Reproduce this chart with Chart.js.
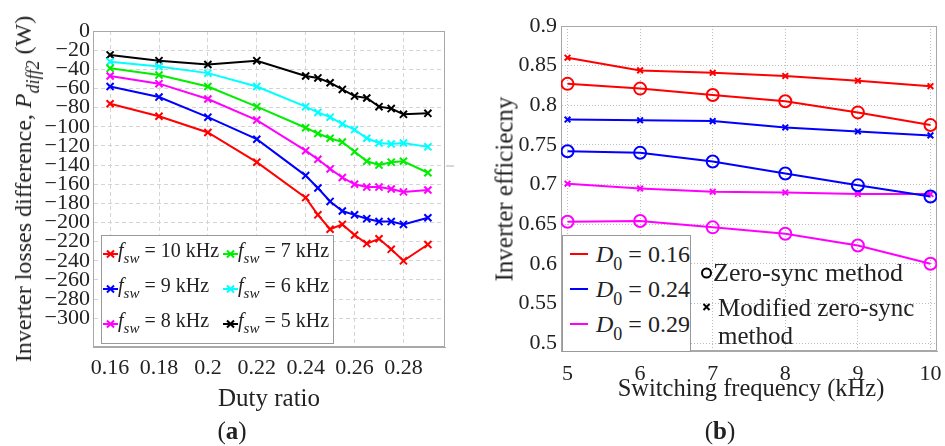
<!DOCTYPE html>
<html>
<head>
<meta charset="utf-8">
<script src="https://cdn.jsdelivr.net/npm/chart.js@4.4.0/dist/chart.umd.min.js"></script>
<style>
  body { margin: 0; background: #fff; }
  #wrap { position: relative; width: 945px; height: 446px; overflow: hidden; font-family: 'Liberation Serif', serif; color: #222; }
  canvas { position: absolute; top: 0; }
  #lossCanvas { left: 0; }
  #effCanvas { left: 470px; }
  .txt { position: absolute; white-space: nowrap; line-height: 1; }
  .c { transform: translate(-50%, -50%); }
  .l { transform: translate(0, -50%); }
  .rot { transform: translate(-50%, -50%) rotate(-90deg); }
  .sub { font-size: 0.75em; position: relative; top: 0.42em; }
  .box { position: absolute; background: #fff; border: 1px solid #999; }
  svg { position: absolute; overflow: visible; }
</style>
</head>
<body>
<div id="wrap">
  <canvas id="lossCanvas" width="470" height="446"></canvas>
  <canvas id="effCanvas" width="475" height="446"></canvas>

  <div class="txt rot" style="left:23px; top:189px; font-size:24px;">Inverter losses difference, <i>P</i><span class="sub"><i>diff2</i></span> (W)</div>
  <div class="txt c" style="left:269px; top:397px; font-size:25px;">Duty ratio</div>
  <div class="txt c" style="left:232px; top:430px; font-size:25px;">(<b>a</b>)</div>
  <div class="box" style="left:101px; top:235px; width:231px; height:107px;"></div>
  <div id="lossLegend"></div>

  <div class="txt rot" style="left:504px; top:189px; font-size:25px;">Inverter efficiecny</div>
  <div class="txt c" style="left:751px; top:388px; font-size:24.5px;">Switching frequency (kHz)</div>
  <div class="txt c" style="left:720px; top:430px; font-size:25px;">(<b>b</b>)</div>
  <div class="box" style="left:562px; top:235px; width:127px; height:115px;"></div>
  <div id="effLegend"></div>
  <svg style="left:0; top:0;" width="945" height="446">
    <circle cx="706.5" cy="273" r="4.5" fill="none" stroke="#000" stroke-width="2"/>
    <path d="M703.5 304 L709.5 310 M709.5 304 L703.5 310" stroke="#000" stroke-width="2"/>
    <line x1="446" y1="166" x2="454" y2="166" stroke="#b0b0b0" stroke-width="1"/>
  </svg>
  <div class="txt l" style="left:713px; top:273px; font-size:26px;">Zero-sync method</div>
  <div class="txt l" style="left:718px; top:307px; font-size:25px;">Modified zero-sync</div>
  <div class="txt l" style="left:718px; top:335px; font-size:25px;">method</div>
</div>

<script>
// ---- (a) inverter losses difference vs duty ratio ----
const dutyRatio = [0.16, 0.18, 0.20, 0.22, 0.24, 0.245, 0.25, 0.255, 0.26, 0.265, 0.27, 0.275, 0.28, 0.29];
const loss10k = [-76, -89, -106, -137, -174, -192, -207, -202, -213, -222, -217, -228, -240, -223];
const loss9k  = [-58, -69, -90, -113, -151, -164, -178, -188, -192, -196, -199, -199, -202, -195];
const loss8k  = [-47, -55, -71, -93, -125, -134, -144, -153, -160, -163, -163, -165, -168, -166];
const loss7k  = [-39, -46, -58, -79, -101, -107, -112, -116, -126, -136, -140, -137, -136, -148];
const loss6k  = [-32, -37, -44, -58, -79, -85, -90, -97, -103, -112, -117, -118, -117, -121];
const loss5k  = [-25, -31, -35, -31, -47, -49, -54, -61, -68, -70, -79, -81, -87, -86];
const lossLabels = ['10', '9', '8', '7', '6', '5'];
const dutyTicks = [0.16, 0.18, 0.2, 0.22, 0.24, 0.26, 0.28];
const lossTicks = [0, -20, -40, -60, -80, -100, -120, -140, -160, -180, -200, -220, -240, -260, -280, -300];

// ---- (b) inverter efficiency vs switching frequency ----
const freqKHz = [5, 6, 7, 8, 9, 10];
const eff016Zero = [0.827, 0.821, 0.813, 0.805, 0.791, 0.775];
const eff016Mod  = [0.860, 0.844, 0.841, 0.837, 0.831, 0.824];
const eff024Zero = [0.742, 0.740, 0.729, 0.714, 0.699, 0.685];
const eff024Mod  = [0.782, 0.781, 0.780, 0.772, 0.767, 0.762];
const eff029Zero = [0.653, 0.654, 0.646, 0.638, 0.623, 0.600];
const eff029Mod  = [0.701, 0.695, 0.691, 0.690, 0.688, 0.688];
const effLabels = ['0.16', '0.24', '0.29'];
const freqTicks = [5, 6, 7, 8, 9, 10];
const effTicks = [0.5, 0.55, 0.6, 0.65, 0.7, 0.75, 0.8, 0.85, 0.9];

const lossColors = ['#ff0000', '#0000ff', '#ff00ff', '#00ee00', '#00ffff', '#000000'];
const effColors = ['#ff0000', '#0000ff', '#ff00ff'];
const FONT = "'Liberation Serif', serif";
Chart.defaults.font.family = FONT;

// box round the plot area, like the matlab axes
const framePlugin = {
    id: 'frame',
    beforeDatasetsDraw(chart) {
        const { ctx, chartArea: a } = chart;
        ctx.save();
        ctx.strokeStyle = '#a8a8a8';
        ctx.lineWidth = 1;
        ctx.strokeRect(a.left + 0.5, a.top + 0.5, a.right - a.left - 1, a.bottom - a.top - 1);
        ctx.restore();
    }
};

function series(xs, ys, color, style, radius) {
    return {
        data: xs.map((x, i) => ({ x: x, y: ys[i] })),
        borderColor: color,
        backgroundColor: 'rgba(0,0,0,0)',
        borderWidth: 2,
        pointStyle: style,
        pointRadius: radius,
        pointBorderWidth: 2,
        tension: 0
    };
}

function fixedTicks(list) {
    return scale => { scale.ticks = list.map(v => ({ value: v })); };
}

function axis(opts) {
    return {
        type: 'linear',
        min: opts.min,
        max: opts.max,
        afterBuildTicks: fixedTicks(opts.ticks),
        afterFit: scale => {
            if (opts.height) scale.height = opts.height;
            if (opts.width) scale.width = opts.width;
            scale.paddingLeft = scale.paddingRight = scale.paddingTop = scale.paddingBottom = 0;
        },
        ticks: {
            font: { family: FONT, size: 22 },
            color: '#222',
            padding: opts.pad,
            maxRotation: 0,
            autoSkip: false,
            callback: opts.fmt
        },
        grid: { color: opts.gridColor, drawTicks: false },
        border: { color: '#a8a8a8', dash: opts.dash }
    };
}

const baseOptions = {
    responsive: false,
    animation: false,
    plugins: { legend: { display: false }, tooltip: { enabled: false } }
};

function drawCharts() {
    // (a)
    const lossData = [loss10k, loss9k, loss8k, loss7k, loss6k, loss5k];
    new Chart(document.getElementById('lossCanvas'), {
        type: 'line',
        data: { datasets: lossData.map((ys, i) => series(dutyRatio, ys, lossColors[i], 'crossRot', 5)) },
        options: {
            ...baseOptions,
            layout: { padding: { left: 0, right: 25, top: 31, bottom: 59 } },
            scales: {
                x: axis({ min: 0.153, max: 0.297, ticks: dutyTicks, height: 40, pad: 8, gridColor: '#d4d4d4', dash: [4, 3],
                    fmt: v => String(+v.toFixed(2)) }),
                y: axis({ min: -330, max: 0, ticks: lossTicks, width: 93, pad: 3, gridColor: '#d4d4d4', dash: [4, 3],
                    fmt: v => v === 0 ? '0' : '\u2212' + Math.abs(v) })
            }
        },
        plugins: [framePlugin]
    });

    // (b)
    const effData = [[eff016Zero, eff016Mod], [eff024Zero, eff024Mod], [eff029Zero, eff029Mod]];
    const effSets = [];
    effData.forEach((pair, i) => {
        effSets.push(series(freqKHz, pair[0], effColors[i], 'circle', 6));
        effSets.push(series(freqKHz, pair[1], effColors[i], 'crossRot', 4));
    });
    new Chart(document.getElementById('effCanvas'), {
        type: 'line',
        data: { datasets: effSets },
        options: {
            ...baseOptions,
            layout: { padding: { left: 0, right: 2, top: 26, bottom: 60 } },
            scales: {
                x: axis({ min: 4.91, max: 10.09, ticks: freqTicks, height: 35, pad: 10, gridColor: '#bdbdbd', dash: [1, 2],
                    fmt: v => String(v) }),
                y: axis({ min: 0.49, max: 0.9, ticks: effTicks, width: 91, pad: 4, gridColor: '#bdbdbd', dash: [1, 2],
                    fmt: v => String(+v.toFixed(2)) })
            }
        },
        plugins: [framePlugin]
    });
}

// ---- legends (html so the subscripts come out right) ----
function cross(cx, cy, r) {
    return `M${cx - r} ${cy - r} L${cx + r} ${cy + r} M${cx + r} ${cy - r} L${cx - r} ${cy + r}`;
}

const lossLegend = document.getElementById('lossLegend');
const lossCols = [103, 223];
const lossRows = [250, 285, 320];
// column-major: 10, 9, 8 | 7, 6, 5
lossLabels.forEach((lab, i) => {
    const x = lossCols[Math.floor(i / 3)];
    const y = lossRows[i % 3];
    const c = lossColors[i];
    lossLegend.insertAdjacentHTML('beforeend', `
        <svg style="left:0;top:0" width="1" height="1">
            <line x1="${x}" y1="${y + 4}" x2="${x + 15}" y2="${y + 4}" stroke="${c}" stroke-width="2"/>
            <path d="${cross(x + 7.5, y + 4, 3.5)}" stroke="${c}" stroke-width="2"/>
        </svg>
        <div class="txt l" style="left:${x + 15}px; top:${y}px; font-size:20px;"><i>f</i><span class="sub"><i>sw</i></span> = ${lab} kHz</div>
    `);
});

const effLegend = document.getElementById('effLegend');
const effRows = [254, 289, 324];
effLabels.forEach((lab, i) => {
    const y = effRows[i];
    effLegend.insertAdjacentHTML('beforeend', `
        <svg style="left:0;top:0" width="1" height="1">
            <line x1="570" y1="${y}" x2="588" y2="${y}" stroke="${effColors[i]}" stroke-width="2"/>
        </svg>
        <div class="txt l" style="left:596px; top:${y}px; font-size:24px;"><i>D</i><span class="sub">0</span> = ${lab}</div>
    `);
});

// make sure the serif face is ready before the canvas text is drawn
document.fonts.load('22px "Liberation Serif"').then(drawCharts, drawCharts);
</script>
</body>
</html>
